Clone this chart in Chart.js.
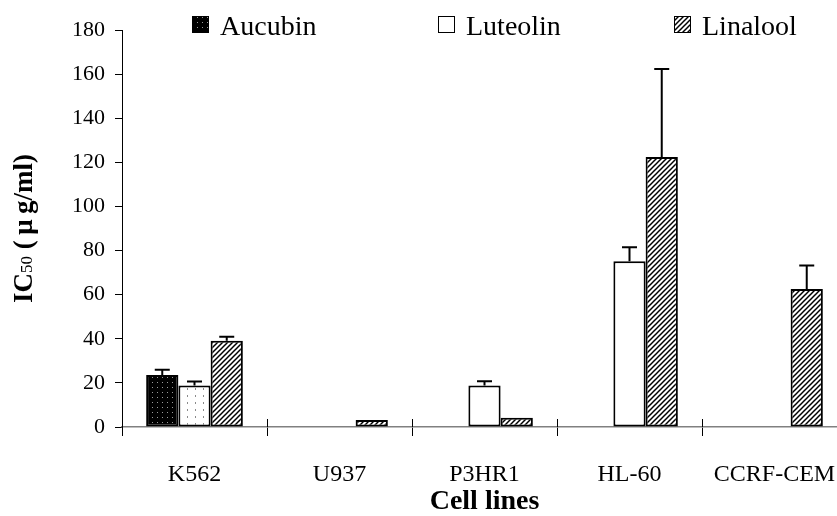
<!DOCTYPE html>
<html>
<head>
<meta charset="utf-8">
<script src="https://cdn.jsdelivr.net/npm/chart.js@4"></script>
<style>
  html, body { margin: 0; padding: 0; background: #fff; overflow: hidden; }
  body { width: 837px; height: 516px; }
</style>
</head>
<body>
<!-- the plot runs a little past the right edge of the window, as in the original figure -->
<canvas id="chart" width="850" height="516"></canvas>
<script>
const cellLines = ['K562', 'U937', 'P3HR1', 'HL-60', 'CCRF-CEM'];

const aucubin = [23.6, null, null, null, null];
const aucubinErr = [2.4, 0, 0, 0, 0];
const luteolin = [18.8, null, 18.8, 75.2, null];
const luteolinErr = [1.8, 0, 1.9, 6.3, 0];
const linalool = [39.1, 3.2, 4.2, 122.4, 62.6];
const linaloolErr = [1.8, 0, 0, 39.9, 10.6];

const yMax = 180;
const yStep = 20;

const serif = "'Liberation Serif', 'Times New Roman', serif";

const canvas = document.getElementById('chart');
const ctx = canvas.getContext('2d');

// small tiles used as fill patterns
function makePattern(w, h, draw) {
  const c = document.createElement('canvas');
  c.width = w;
  c.height = h;
  draw(c.getContext('2d'));
  return ctx.createPattern(c, 'repeat');
}

const darkDots = makePattern(5, 5, g => {
  g.fillStyle = '#000';
  g.fillRect(0, 0, 5, 5);
  g.fillStyle = '#9a9a9a';
  g.fillRect(2, 2, 1, 1);
});

const lightDots = makePattern(8, 7, g => {
  g.fillStyle = '#fff';
  g.fillRect(0, 0, 8, 7);
  g.fillStyle = '#8a8a8a';
  g.fillRect(3, 3, 1, 2);
});

const hatch = makePattern(5, 5, g => {
  g.fillStyle = '#fff';
  g.fillRect(0, 0, 5, 5);
  g.strokeStyle = '#000';
  g.lineWidth = 1.5;
  [-5, 0, 5].forEach(o => {
    g.beginPath();
    g.moveTo(o - 1, 6);
    g.lineTo(o + 6, -1);
    g.stroke();
  });
});

// error bars, tick marks crossing the axis, y title and legend
const extras = {
  id: 'extras',
  afterDatasetsDraw(chart) {
    const c = chart.ctx;
    const x = chart.scales.x;
    const y = chart.scales.y;

    c.save();
    c.strokeStyle = '#000';
    c.lineWidth = 2;
    chart.data.datasets.forEach((ds, i) => {
      chart.getDatasetMeta(i).data.forEach((bar, j) => {
        const v = ds.data[j];
        const e = ds.err[j];
        if (v == null || !e) return;
        const yCap = y.getPixelForValue(v + e);
        c.beginPath();
        c.moveTo(bar.x, bar.y);
        c.lineTo(bar.x, yCap);
        c.moveTo(bar.x - 7.5, yCap);
        c.lineTo(bar.x + 7.5, yCap);
        c.stroke();
      });
    });

    // category separators also reach a little above the axis
    c.lineWidth = 1;
    const n = cellLines.length;
    const step = (x.right - x.left) / n;
    for (let k = 1; k <= n; k++) {
      const px = Math.round(x.left + k * step) + 0.5;
      c.beginPath();
      c.moveTo(px, y.bottom);
      c.lineTo(px, y.bottom - 8);
      c.stroke();
    }
    c.restore();
  },
  afterDraw(chart) {
    const c = chart.ctx;
    const y = chart.scales.y;

    // y axis title with subscript
    const parts = [
      { t: 'IC', f: `bold 27px ${serif}` },
      { t: '50', f: `17px ${serif}` },
      { t: ' (\u2009\u03bc\u2009g/ml)', f: `bold 27px ${serif}` }
    ];
    c.save();
    let total = 0;
    parts.forEach(p => { c.font = p.f; p.w = c.measureText(p.t).width; total += p.w; });
    c.translate(32, (y.top + y.bottom) / 2);
    c.rotate(-Math.PI / 2);
    c.fillStyle = '#000';
    c.textBaseline = 'alphabetic';
    let cx = -total / 2;
    parts.forEach(p => {
      c.font = p.f;
      c.fillText(p.t, cx, 0);
      cx += p.w;
    });
    c.restore();

    // legend
    const boxX = [192, 438, 674];
    c.save();
    c.font = `28px ${serif}`;
    c.textBaseline = 'alphabetic';
    chart.data.datasets.forEach((ds, i) => {
      c.fillStyle = ds.legendFill;
      c.fillRect(boxX[i], 16, 17, 17);
      c.strokeStyle = '#000';
      c.lineWidth = 1;
      c.strokeRect(boxX[i] + 0.5, 16.5, 16, 16);
      c.fillStyle = '#000';
      c.fillText(ds.label, boxX[i] + 28, 35);
    });
    c.restore();
  }
};

new Chart(ctx, {
  type: 'bar',
  data: {
    labels: cellLines,
    datasets: [
      { label: 'Aucubin', data: aucubin, err: aucubinErr, backgroundColor: darkDots, legendFill: darkDots },
      { label: 'Luteolin', data: luteolin, err: luteolinErr, backgroundColor: [lightDots, '#fff', '#fff', '#fff', '#fff'], legendFill: '#fff' },
      { label: 'Linalool', data: linalool, err: linaloolErr, backgroundColor: hatch, legendFill: hatch }
    ]
  },
  options: {
    responsive: false,
    animation: false,
    layout: { padding: { left: 62, right: 3, top: 30, bottom: 0 } },
    datasets: {
      bar: {
        categoryPercentage: 0.667,
        barPercentage: 1,
        borderColor: '#000',
        borderWidth: 2,
        borderSkipped: false
      }
    },
    plugins: {
      legend: { display: false },
      tooltip: { enabled: false }
    },
    scales: {
      x: {
        grid: { drawOnChartArea: false, tickLength: 9, color: '#000', offset: true },
        border: { color: '#808080', width: 1.5 },
        ticks: {
          color: '#000',
          font: { family: serif, size: 24, lineHeight: 3 },
          padding: 3,
          maxRotation: 0,
          autoSkip: false
        },
        title: {
          display: true,
          text: 'Cell lines',
          color: '#000',
          font: { family: serif, size: 28, weight: 'bold', lineHeight: 1 },
          padding: { top: -26, bottom: 0 }
        }
      },
      y: {
        min: 0,
        max: yMax,
        ticks: {
          stepSize: yStep,
          color: '#000',
          font: { family: serif, size: 22 },
          padding: 10
        },
        grid: { drawOnChartArea: false, tickLength: 7, color: '#000' },
        border: { color: '#000', width: 1 }
      }
    }
  },
  plugins: [extras]
});
</script>
</body>
</html>
